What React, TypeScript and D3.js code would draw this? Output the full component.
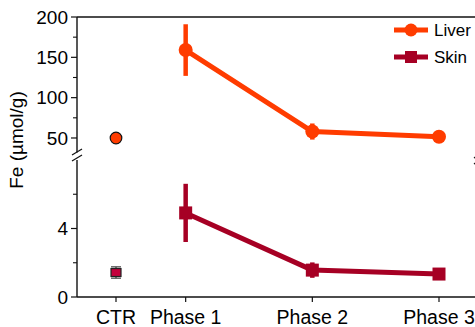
import React from "react";
import * as d3 from "d3";

// categories and their positions on the x axis
const categories = ["CTR", "Phase 1", "Phase 2", "Phase 3"];
const xPositions = [0, 0.55, 1.55, 2.55];

// Liver (upper panel, µmol/g)
const liverMean = [50, 159, 58, 51.5];
const liverErr = [2, 32, 10, 3];

// Skin (lower panel, µmol/g)
const skinMean = [1.43, 4.91, 1.57, 1.34];
const skinErr = [0.33, 1.7, 0.45, 0.15];

const upperTicks = [50, 100, 150, 200];
const upperMinor = [75, 125, 175];
const lowerTicks = [0, 4];
const lowerMinor = [2, 6];

const W = 475;
const H = 327;
const AXIS_X = 77;
const LIVER = "#ff3c00";
const SKIN = "#a60024";
const FONT = "'Liberation Sans', Arial, Helvetica, sans-serif";

export default function App() {
  const x = d3.scaleLinear().domain([0, 2.55]).range([116, 439]);
  const yUp = d3.scaleLinear().domain([32, 200]).range([152.5, 17]);
  const yLo = d3.scaleLinear().domain([0, 8]).range([297, 160]);

  const liverLine = d3
    .line<number>()
    .x((_, i) => x(xPositions[i + 1]))
    .y((d) => yUp(d));
  const skinLine = d3
    .line<number>()
    .x((_, i) => x(xPositions[i + 1]))
    .y((d) => yLo(d));

  const right = W + 4;

  return (
    <div style={{ position: "fixed", left: 0, top: 0 }}>
      <svg width={W} height={H} style={{ display: "block" }} fontFamily={FONT}>
        <rect width={W} height={H} fill="#fff" />

        {/* frame */}
        <line x1={AXIS_X} x2={right} y1={17} y2={17} stroke="#111" strokeWidth={1.6} />
        <line x1={AXIS_X} x2={right} y1={297} y2={297} stroke="#111" strokeWidth={1.4} />
        <line x1={AXIS_X} x2={AXIS_X} y1={17} y2={yUp.range()[0]} stroke="#111" strokeWidth={1.4} />
        <line x1={AXIS_X} x2={AXIS_X} y1={yLo.range()[1]} y2={297} stroke="#111" strokeWidth={1.4} />

        {/* axis break marks */}
        {[0, 6].map((o) => (
          <line key={"bl" + o} x1={AXIS_X - 5} x2={AXIS_X + 5} y1={155 + o} y2={149 + o} stroke="#111" strokeWidth={1.2} />
        ))}
        {[0, 6].map((o) => (
          <line key={"br" + o} x1={right - 5} x2={right + 5} y1={158 + o} y2={152 + o} stroke="#111" strokeWidth={1.4} />
        ))}

        {/* upper y ticks */}
        {upperTicks.map((t) => (
          <g key={"u" + t} transform={`translate(${AXIS_X},${yUp(t)})`}>
            <line x1={-6} x2={0} stroke="#111" strokeWidth={1.2} />
            <text x={-9} dy="0.36em" textAnchor="end" fontSize={19}>
              {t}
            </text>
          </g>
        ))}
        {upperMinor.map((t) => (
          <line key={"um" + t} x1={AXIS_X - 4} x2={AXIS_X} y1={yUp(t)} y2={yUp(t)} stroke="#111" strokeWidth={1.1} />
        ))}

        {/* lower y ticks */}
        {lowerTicks.map((t) => (
          <g key={"l" + t} transform={`translate(${AXIS_X},${yLo(t)})`}>
            <line x1={-6} x2={0} stroke="#111" strokeWidth={1.2} />
            <text x={-9} dy="0.36em" textAnchor="end" fontSize={19}>
              {t}
            </text>
          </g>
        ))}
        {lowerMinor.map((t) => (
          <line key={"lm" + t} x1={AXIS_X - 4} x2={AXIS_X} y1={yLo(t)} y2={yLo(t)} stroke="#111" strokeWidth={1.1} />
        ))}

        {/* x ticks */}
        {categories.map((c, i) => (
          <g key={c} transform={`translate(${x(xPositions[i])},297)`}>
            <line y1={0} y2={5} stroke="#111" strokeWidth={1.2} />
            <text y={27} textAnchor="middle" fontSize={19.5}>
              {c}
            </text>
          </g>
        ))}

        {/* y title */}
        <text transform="translate(23,140) rotate(-90)" textAnchor="middle" fontSize={19}>
          Fe (µmol/g)
        </text>

        {/* Liver series */}
        <path d={liverLine(liverMean.slice(1)) || ""} fill="none" stroke={LIVER} strokeWidth={5} strokeLinejoin="round" />
        {liverMean.slice(1).map((v, j) => {
          const i = j + 1;
          return (
            <g key={"lv" + i}>
              <line x1={x(xPositions[i])} x2={x(xPositions[i])} y1={yUp(v + liverErr[i])} y2={yUp(v - liverErr[i])} stroke={LIVER} strokeWidth={4.5} />
              <circle cx={x(xPositions[i])} cy={yUp(v)} r={7} fill={LIVER} />
            </g>
          );
        })}
        <circle cx={x(xPositions[0])} cy={yUp(liverMean[0])} r={5.8} fill={LIVER} stroke="#111" strokeWidth={1.2} />

        {/* Skin series */}
        <path d={skinLine(skinMean.slice(1)) || ""} fill="none" stroke={SKIN} strokeWidth={5} strokeLinejoin="round" />
        {skinMean.slice(1).map((v, j) => {
          const i = j + 1;
          return (
            <g key={"sk" + i}>
              <line x1={x(xPositions[i])} x2={x(xPositions[i])} y1={yLo(v + skinErr[i])} y2={yLo(v - skinErr[i])} stroke={SKIN} strokeWidth={4.5} />
              <rect x={x(xPositions[i]) - 6.5} y={yLo(v) - 6.5} width={13} height={13} fill={SKIN} />
            </g>
          );
        })}
        {(() => {
          const cx = x(xPositions[0]);
          const cy = yLo(skinMean[0]);
          const top = yLo(skinMean[0] + skinErr[0]);
          const bot = yLo(skinMean[0] - skinErr[0]);
          return (
            <g>
              <line x1={cx} x2={cx} y1={top} y2={bot} stroke="#222" strokeWidth={1} />
              <line x1={cx - 5} x2={cx + 5} y1={top} y2={top} stroke="#222" strokeWidth={1} />
              <line x1={cx - 5} x2={cx + 5} y1={bot} y2={bot} stroke="#222" strokeWidth={1} />
              <rect x={cx - 5} y={cy - 4} width={10} height={8} fill="#c4003c" stroke="#222" strokeWidth={1.2} />
            </g>
          );
        })()}

        {/* legend */}
        <g transform="translate(394,30)">
          <line x1={0} x2={34} stroke={LIVER} strokeWidth={5} />
          <circle cx={17} cy={0} r={6.5} fill={LIVER} />
          <text x={40} dy="0.36em" fontSize={17}>
            Liver
          </text>
        </g>
        <g transform="translate(394,57)">
          <line x1={0} x2={34} stroke={SKIN} strokeWidth={5} />
          <rect x={11} y={-6} width={12} height={12} fill={SKIN} />
          <text x={40} dy="0.36em" fontSize={17}>
            Skin
          </text>
        </g>
      </svg>
    </div>
  );
}
